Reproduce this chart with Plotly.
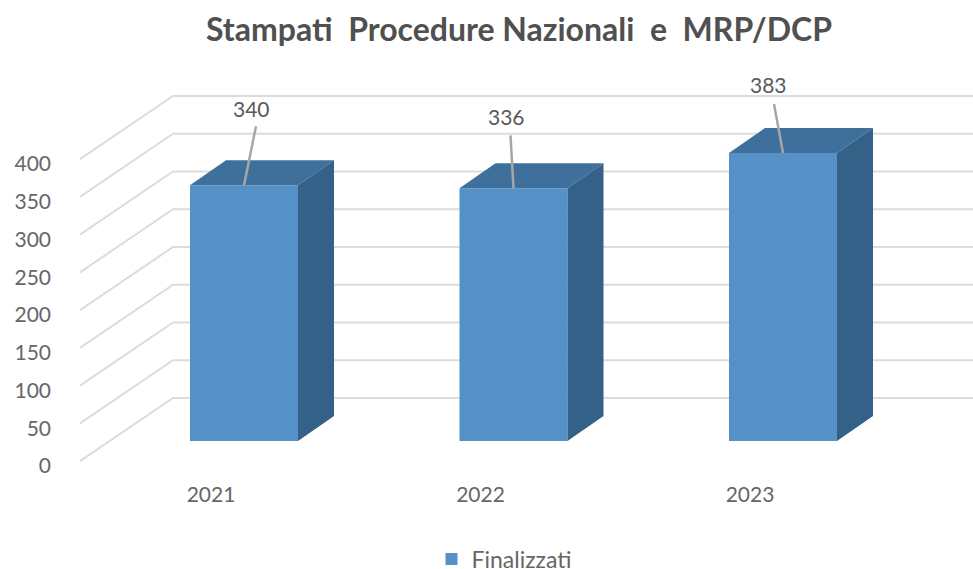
import plotly.graph_objects as go

# --- data ---
years = ["2021", "2022", "2023"]
finalizzati = [340, 336, 383]
value_ticks = [0, 50, 100, 150, 200, 250, 300, 350, 400]
title_text = "Stampati  Procedure Nazionali  e  MRP/DCP"
series_name = "Finalizzati"

# --- geometry (canvas pixels -> axis scales) ---
W, H = 973, 569
L, R, T, B = 52, 973, 62, 480       # plot-area box
SLOT = 269.5                        # px between bar centres
X0 = 244                            # px of first bar centre
SCALE_AXIS = 0.755                  # px per unit, tick labels and walls
ZERO_AXIS = 466                     # px of the axis' zero
SCALE_BAR = 0.752                   # px per unit, bars
ZERO_BAR = 441                      # px of the bars' base
BAR_W = 108 / SLOT
DEPTH_X = 36 / SLOT
DEPTH_Y = 25 / SCALE_BAR
WALL_FRONT_X = (80 - X0) / SLOT
WALL_BACK_X = (173 - X0) / SLOT
WALL_FRONT_DY = 6.5
WALL_BACK_DY = (ZERO_AXIS - 398) / SCALE_AXIS
YEAR_SHIFT = -33 / SLOT
# leader tip and label offsets from the bar's top-centre, px
LEADER_DX = [12, -3, -9]
LEADER_DY = [59, 53, 49]
LABEL_DX = [7, -7, -15]
LABEL_DY = [77, 72, 68]

COL_FRONT = "#5591c7"
COL_TOP = "#3f709c"
COL_SIDE = "#336187"
COL_GRID = "#dcdcdc"
COL_LEADER = "#a6a6a6"
COL_TEXT = "#666666"
FONT = "Lato"

xpos = list(range(len(years)))
x_lo = (L - X0) / SLOT
x_hi = (R - X0) / SLOT

fig = go.Figure()

# wall / floor grid, on the tick axis
for v in value_ticks:
    fig.add_trace(go.Scatter(
        x=[WALL_FRONT_X, WALL_BACK_X, x_hi],
        y=[v + WALL_FRONT_DY, v + WALL_BACK_DY, v + WALL_BACK_DY],
        mode="lines", line=dict(color=COL_GRID, width=2),
        showlegend=False, hoverinfo="skip", yaxis="y"))

# front faces
fig.add_trace(go.Bar(
    x=xpos, y=finalizzati, width=BAR_W, name=series_name,
    marker=dict(color=COL_FRONT, line=dict(width=0)), yaxis="y2"))

# top and side faces
for i, v in zip(xpos, finalizzati):
    a, b = i - BAR_W / 2, i + BAR_W / 2
    fig.add_trace(go.Scatter(
        x=[a, b, b + DEPTH_X, a + DEPTH_X, a],
        y=[v, v, v + DEPTH_Y, v + DEPTH_Y, v],
        mode="lines", fill="toself", fillcolor=COL_TOP, line=dict(width=0),
        showlegend=False, hoverinfo="skip", yaxis="y2"))
    fig.add_trace(go.Scatter(
        x=[b, b, b + DEPTH_X, b + DEPTH_X, b],
        y=[0, v, v + DEPTH_Y, DEPTH_Y, 0],
        mode="lines", fill="toself", fillcolor=COL_SIDE, line=dict(width=0),
        showlegend=False, hoverinfo="skip", yaxis="y2"))

# leader lines and data labels
annotations = []
for i, v, ldx, ldy, tdx, tdy in zip(xpos, finalizzati, LEADER_DX, LEADER_DY, LABEL_DX, LABEL_DY):
    fig.add_trace(go.Scatter(
        x=[i, i + ldx / SLOT], y=[v, v + ldy / SCALE_BAR],
        mode="lines", line=dict(color=COL_LEADER, width=2.5),
        showlegend=False, hoverinfo="skip", yaxis="y2"))
    annotations.append(dict(
        x=i, y=v, xref="x", yref="y2", text=str(v), showarrow=False,
        xshift=tdx, yshift=tdy, font=dict(family=FONT, size=21, color="#595959")))

fig.update_layout(
    width=W, height=H, autosize=False,
    margin=dict(l=L, r=W - R, t=T, b=H - B, pad=0, autoexpand=False),
    paper_bgcolor="white", plot_bgcolor="white",
    title=dict(text="<b>" + title_text + "</b>", x=519 / W, xanchor="center",
               y=1 - 30 / H, yanchor="middle",
               font=dict(family=FONT, size=32, color="#505050")),
    font=dict(family=FONT, size=21, color=COL_TEXT),
    xaxis=dict(range=[x_lo, x_hi], tickmode="array",
               tickvals=[i + YEAR_SHIFT for i in xpos], ticktext=years,
               showgrid=False, zeroline=False, showline=False, ticks=""),
    yaxis=dict(range=[(ZERO_AXIS - B) / SCALE_AXIS, (ZERO_AXIS - T) / SCALE_AXIS],
               tickmode="array", tickvals=value_ticks,
               showgrid=False, zeroline=False, showline=False, ticks=""),
    yaxis2=dict(range=[(ZERO_BAR - B) / SCALE_BAR, (ZERO_BAR - T) / SCALE_BAR],
                overlaying="y", side="left", visible=False),
    legend=dict(orientation="h", x=(504 - L) / (R - L), xanchor="center",
                y=-(559 - B) / (B - T), yanchor="middle",
                font=dict(family=FONT, size=23, color=COL_TEXT)),
    annotations=annotations,
    showlegend=True,
)

fig.write_html(
    "out.html",
    config={"displayModeBar": False},
    post_script="document.body.style.margin='0';document.documentElement.style.overflow='hidden';",
)
